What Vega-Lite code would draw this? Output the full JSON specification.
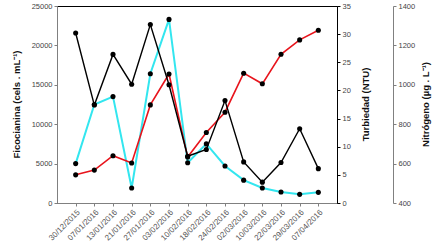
{
  "$schema": "https://vega.github.io/schema/vega-lite/v6.json",
  "width": 280,
  "height": 197,
  "autosize": {"type": "none"},
  "padding": {"left": 57, "top": 6, "right": 105, "bottom": 48},
  "background": "white",
  "config": {
    "font": "Liberation Sans",
    "view": {"stroke": "black", "strokeWidth": 1},
    "axis": {
      "labelFont": "Liberation Sans",
      "titleFont": "Liberation Sans",
      "grid": false,
      "tickSize": 3,
      "labelFontSize": 7.5,
      "labelColor": "#444444",
      "titleFontSize": 9.5,
      "titleFontWeight": "bold",
      "titleColor": "#111111"
    }
  },
  "data": {
    "values": [
      {"fecha": "30/12/2015", "fico": 5000, "turb": 30.2, "nitro": 543},
      {"fecha": "07/01/2016", "fico": 12500, "turb": 17.4, "nitro": 567},
      {"fecha": "13/01/2016", "fico": 13500, "turb": 26.4, "nitro": 640},
      {"fecha": "21/01/2016", "fico": 1900, "turb": 21.1, "nitro": 603},
      {"fecha": "27/01/2016", "fico": 16400, "turb": 31.7, "nitro": 898},
      {"fecha": "03/02/2016", "fico": 23300, "turb": 21.0, "nitro": 1055},
      {"fecha": "10/02/2016", "fico": 5100, "turb": 8.3, "nitro": 633},
      {"fecha": "18/02/2016", "fico": 7500, "turb": 9.5, "nitro": 758},
      {"fecha": "24/02/2016", "fico": 4700, "turb": 18.2, "nitro": 861},
      {"fecha": "02/03/2016", "fico": 2900, "turb": 7.3, "nitro": 1059},
      {"fecha": "10/03/2016", "fico": 1900, "turb": 3.7, "nitro": 1005},
      {"fecha": "22/03/2016", "fico": 1400, "turb": 7.2, "nitro": 1155},
      {"fecha": "29/03/2016", "fico": 1100, "turb": 13.2, "nitro": 1228},
      {"fecha": "07/04/2016", "fico": 1350, "turb": 6.1, "nitro": 1277}
    ]
  },
  "encoding": {
    "x": {
      "field": "fecha",
      "type": "ordinal",
      "sort": null,
      "scale": {"type": "point", "padding": 1},
      "axis": {
        "title": null,
        "labelAngle": -45,
        "labelFontSize": 8,
        "labelPadding": 2,
        "labelColor": "#555555",
        "domainColor": "#808080",
        "tickColor": "#808080"
      }
    }
  },
  "layer": [
    {
      "mark": {"type": "line", "color": "#33e6ef", "strokeWidth": 2, "point": {"filled": true, "color": "black", "size": 26}},
      "encoding": {
        "y": {
          "field": "fico",
          "type": "quantitative",
          "scale": {"domain": [0, 25000], "nice": false},
          "axis": {
            "values": [0, 5000, 10000, 15000, 20000, 25000],
            "format": "d",
            "domainColor": "#808080",
            "tickColor": "#808080",
            "title": "Ficocianina (cels . mL⁻¹)",
            "titleAngle": 270,
            "titleAlign": "center",
            "titleBaseline": "middle",
            "titleX": -41,
            "titleY": 98
          }
        }
      }
    },
    {
      "mark": {"type": "line", "color": "#e8141c", "strokeWidth": 1.6, "point": {"filled": true, "color": "black", "size": 26}},
      "encoding": {
        "y": {
          "field": "nitro",
          "type": "quantitative",
          "scale": {"domain": [400, 1400], "nice": false},
          "axis": {
            "orient": "right",
            "offset": 56,
            "values": [400, 600, 800, 1000, 1200, 1400],
            "format": "d",
            "domainColor": "#808080",
            "tickColor": "#808080",
            "title": "Nitrógeno (µg . L⁻¹)",
            "titleAngle": 270,
            "titleAlign": "center",
            "titleBaseline": "middle",
            "titleX": 32,
            "titleY": 98
          }
        }
      }
    },
    {
      "mark": {"type": "line", "color": "black", "strokeWidth": 1.4, "point": {"filled": true, "color": "black", "size": 26}},
      "encoding": {
        "y": {
          "field": "turb",
          "type": "quantitative",
          "scale": {"domain": [0, 35], "nice": false},
          "axis": {
            "orient": "right",
            "values": [0, 5, 10, 15, 20, 25, 30, 35],
            "domainColor": "black",
            "tickColor": "black",
            "title": "Turbiedad (NTU)",
            "titleAngle": 270,
            "titleAlign": "center",
            "titleBaseline": "middle",
            "titleX": 28,
            "titleY": 98
          }
        }
      }
    }
  ],
  "resolve": {"scale": {"y": "independent"}, "axis": {"y": "independent"}}
}
